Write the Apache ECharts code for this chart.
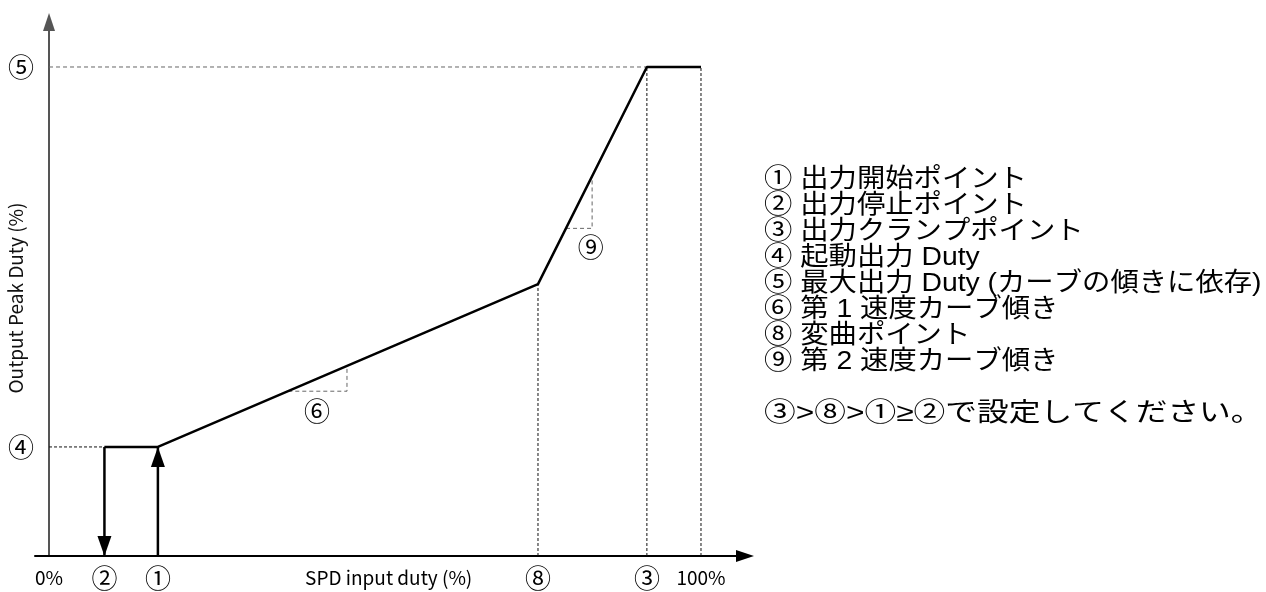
<!DOCTYPE html>
<html>
<head>
<meta charset="utf-8">
<script src="https://cdn.jsdelivr.net/npm/echarts@6/dist/echarts.min.js"></script>
<style>
html,body{margin:0;padding:0;background:#fff;}
#c{width:1266px;height:592px;}
</style>
</head>
<body>
<div id="c"></div>
<script>
// X positions (0% = 0, 100% = 100)
const xTickValues = [0, 8.5, 16.7, 52.1, 75, 91.7, 100];
const xTickLabels = ['0%', '②', '①', 'SPD input duty (%)', '⑧', '③', '100%'];
// Y positions (⑤ = 100)
const yTickValues = [22.3, 100];
const yTickLabels = ['④', '⑤'];

// main output curve
const curveX = [8.5, 16.7, 75, 91.7, 100];
const curveY = [22.3, 22.3, 55.6, 100, 100];

// stop arrow (down at ②) and start arrow (up at ①)
const stopArrowX = [8.5, 8.5];
const stopArrowY = [22.3, 0];
const startArrowX = [16.7, 16.7];
const startArrowY = [0, 22.3];

// dashed guides
const guideGray = [
  [[0, 100], [91.7, 100]],
  [[36.7, 33.7], [45.7, 33.7], [45.7, 38.9]],
  [[79.3, 67.0], [83.3, 67.0], [83.3, 77.5]]
];
const guideBlack = [
  [[0, 22.3], [8.5, 22.3]],
  [[75, 0], [75, 55.6]],
  [[91.7, 0], [91.7, 100]],
  [[100, 0], [100, 100]]
];

// annotation labels
const annoLabels = ['⑥', '⑨'];
const annoX = [41.1, 83.1];
const annoY = [29.7, 63.2];

// legend text
const notes = [
  '① 出力開始ポイント',
  '② 出力停止ポイント',
  '③ 出力クランプポイント',
  '④ 起動出力 Duty',
  '⑤ 最大出力 Duty (カーブの傾きに依存)',
  '⑥ 第 1 速度カーブ傾き',
  '⑧ 変曲ポイント',
  '⑨ 第 2 速度カーブ傾き'
];
const noteRule = '③>⑧>①≥②で設定してください。';

const FONT = '"Noto Sans CJK JP", "Noto Sans", sans-serif';
const CFONT = '"Noto Sans CJK JP", sans-serif';
const LFONT = '"Liberation Sans", "Noto Sans CJK JP", sans-serif';
const chart = echarts.init(document.getElementById('c'), null, {renderer: 'canvas'});

const series = [];
guideGray.forEach(g => series.push({
  type: 'line', data: g, showSymbol: false, silent: true, z: 1,
  lineStyle: {color: '#666', width: 1, type: [4, 3]}
}));
guideBlack.forEach(g => series.push({
  type: 'line', data: g, showSymbol: false, silent: true, z: 1,
  lineStyle: {color: '#111', width: 1, type: [3, 2]}
}));
series.push({
  type: 'line', silent: true, z: 3, showSymbol: false,
  data: curveX.map((x, i) => [x, curveY[i]]),
  lineStyle: {color: '#000', width: 2.5}
});
series.push({
  type: 'line', silent: true, z: 3,
  data: [
    {value: [stopArrowX[0], stopArrowY[0]], symbol: 'none'},
    {value: [stopArrowX[1], stopArrowY[1]], symbol: 'triangle', symbolSize: [14, 20], symbolRotate: 180, symbolOffset: [0, -10]}
  ],
  showAllSymbol: true,
  itemStyle: {color: '#000'},
  lineStyle: {color: '#000', width: 2.5}
});
series.push({
  type: 'line', silent: true, z: 3,
  data: [
    {value: [startArrowX[0], startArrowY[0]], symbol: 'none'},
    {value: [startArrowX[1], startArrowY[1]], symbol: 'triangle', symbolSize: [14, 20], symbolOffset: [0, 10]}
  ],
  showAllSymbol: true,
  itemStyle: {color: '#000'},
  lineStyle: {color: '#000', width: 2.5}
});
series.push({
  type: 'scatter', silent: true, symbolSize: 1, itemStyle: {color: 'rgba(0,0,0,0)', opacity: 1},
  data: annoX.map((x, i) => ({value: [x, annoY[i]], name: annoLabels[i]})),
  label: {show: true, position: 'inside', formatter: p => p.name, color: '#000', opacity: 1, fontSize: 26, fontFamily: CFONT}
});

chart.setOption({
  animation: false,
  backgroundColor: '#fff',
  grid: {left: 35, right: 521, top: 22, bottom: 36, containLabel: false, outerBoundsMode: 'none'},
  xAxis: {
    type: 'value', min: -2.15, max: 106.75,
    splitLine: {show: false},
    axisTick: {show: false},
    axisLine: {show: true, lineStyle: {color: '#000', width: 2}, symbol: ['none', 'triangle'], symbolSize: [12, 18]},
    axisLabel: {
      show: true, customValues: xTickValues, margin: 10, hideOverlap: false,
      formatter: v => {
        const i = xTickValues.findIndex(t => Math.abs(t - v) < 1e-6);
        const s = i >= 0 ? xTickLabels[i] : '';
        return /^[①-⑳]$/.test(s) ? '{c|' + s + '}' : '{t|' + s + '}';
      },
      rich: {
        c: {fontSize: 26, fontFamily: CFONT, color: '#000', lineHeight: 24},
        t: {fontSize: 19, fontFamily: FONT, color: '#000', lineHeight: 24}
      }
    }
  },
  yAxis: {
    type: 'value', min: 0, max: 109.2,
    splitLine: {show: false},
    axisTick: {show: false},
    axisLine: {show: true, onZero: true, lineStyle: {color: '#555', width: 2}, symbol: ['none', 'triangle'], symbolSize: [12, 18]},
    name: 'Output Peak Duty (%)',
    nameLocation: 'middle', nameRotate: 90, nameGap: 10, nameMoveOverlap: false,
    nameTextStyle: {fontSize: 19, fontFamily: FONT, color: '#111', padding: [0, 18, 0, 0]},
    axisLabel: {
      show: true, customValues: yTickValues, margin: 1, hideOverlap: false,
      formatter: v => {
        const i = yTickValues.findIndex(t => Math.abs(t - v) < 1e-6);
        return i >= 0 ? yTickLabels[i] : '';
      },
      fontSize: 26, fontFamily: CFONT, color: '#000'
    }
  },
  graphic: [{
    type: 'text', x: 764, y: 167, scaleX: 1.09, silent: true,
    style: {text: notes.join('\n'), fontSize: 26, lineHeight: 26, fontFamily: LFONT, fill: '#000'}
  }, {
    type: 'text', x: 764, y: 401, scaleX: 1.22, silent: true,
    style: {text: noteRule, fontSize: 26, lineHeight: 26, fontFamily: LFONT, fill: '#000'}
  }],
  series: series
});
</script>
</body>
</html>
